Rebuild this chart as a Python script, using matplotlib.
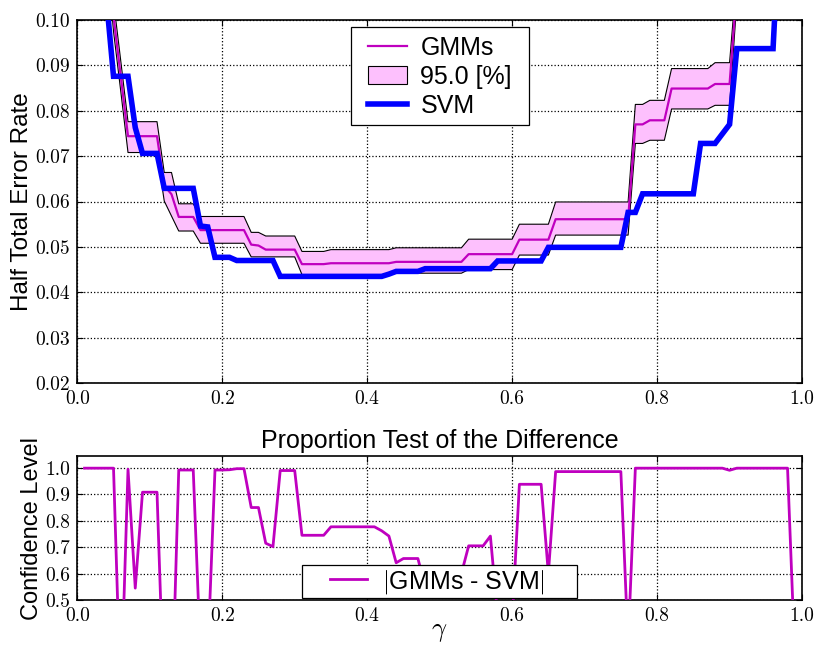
import numpy as np
import matplotlib
matplotlib.use("Agg")
import matplotlib.pyplot as plt
from matplotlib.patches import Patch, Rectangle
from matplotlib.lines import Line2D

plt.rcParams['font.family'] = 'cmr10'
plt.rcParams['mathtext.fontset'] = 'cm'
plt.rcParams['axes.formatter.use_mathtext'] = True

# ---------------- data ----------------
gamma = np.round(np.arange(1, 100) * 0.01, 2)

svm = [0.160, 0.140, 0.120, 0.105, 0.0876, 0.0876, 0.0876, 0.0763, 0.0706, 0.0706,
       0.0706, 0.0629, 0.0629, 0.0629, 0.0629, 0.0629, 0.0546, 0.0544, 0.0477, 0.0477,
       0.0477, 0.0470, 0.0470, 0.0470, 0.0470, 0.0470, 0.0470, 0.0435, 0.0435, 0.0435,
       0.0435, 0.0435, 0.0435, 0.0435, 0.0435, 0.0435, 0.0435, 0.0435, 0.0435, 0.0435,
       0.0435, 0.0435, 0.0440, 0.0446, 0.0446, 0.0446, 0.0446, 0.0452, 0.0452, 0.0452,
       0.0452, 0.0452, 0.0452, 0.0452, 0.0452, 0.0452, 0.0452, 0.0469, 0.0469, 0.0469,
       0.0469, 0.0469, 0.0469, 0.0469, 0.0499, 0.0499, 0.0499, 0.0499, 0.0499, 0.0499,
       0.0499, 0.0499, 0.0499, 0.0499, 0.0499, 0.0576, 0.0576, 0.0617, 0.0617, 0.0617,
       0.0617, 0.0617, 0.0617, 0.0617, 0.0617, 0.0728, 0.0728, 0.0728, 0.0749, 0.0770,
       0.0937, 0.0937, 0.0937, 0.0937, 0.0937, 0.0937, 0.125, 0.130, 0.135]

gmm = [0.200, 0.170, 0.145, 0.120, 0.1008, 0.0876, 0.0744, 0.0744, 0.0744, 0.0744,
       0.0744, 0.0635, 0.0616, 0.0566, 0.0566, 0.0566, 0.0537, 0.0537, 0.0537, 0.0537,
       0.0537, 0.0537, 0.0537, 0.0505, 0.0503, 0.0494, 0.0494, 0.0494, 0.0494, 0.0494,
       0.0462, 0.0462, 0.0462, 0.0462, 0.0464, 0.0464, 0.0464, 0.0464, 0.0464, 0.0464,
       0.0464, 0.0464, 0.0464, 0.0467, 0.0467, 0.0467, 0.0467, 0.0467, 0.0467, 0.0467,
       0.0467, 0.0467, 0.0467, 0.0484, 0.0484, 0.0484, 0.0484, 0.0484, 0.0484, 0.0484,
       0.0516, 0.0516, 0.0516, 0.0516, 0.0516, 0.0561, 0.0561, 0.0561, 0.0561, 0.0561,
       0.0561, 0.0561, 0.0561, 0.0561, 0.0561, 0.0561, 0.0770, 0.0770, 0.0779, 0.0779,
       0.0779, 0.0849, 0.0849, 0.0849, 0.0849, 0.0849, 0.0849, 0.0859, 0.0859, 0.0859,
       0.107, 0.115, 0.120, 0.125, 0.130, 0.135, 0.140, 0.145, 0.150]

gmm_upper = [0.205, 0.175, 0.150, 0.124, 0.1042, 0.0910, 0.0776, 0.0776, 0.0776, 0.0776,
             0.0776, 0.0664, 0.0664, 0.0595, 0.0595, 0.0595, 0.0567, 0.0567, 0.0567, 0.0567,
             0.0567, 0.0567, 0.0567, 0.0532, 0.0532, 0.0524, 0.0524, 0.0524, 0.0524, 0.0524,
             0.0490, 0.0490, 0.0490, 0.0490, 0.0494, 0.0494, 0.0494, 0.0494, 0.0494, 0.0494,
             0.0494, 0.0494, 0.0494, 0.0498, 0.0498, 0.0498, 0.0498, 0.0498, 0.0498, 0.0498,
             0.0498, 0.0498, 0.0498, 0.0517, 0.0517, 0.0517, 0.0517, 0.0517, 0.0517, 0.0517,
             0.0550, 0.0550, 0.0550, 0.0550, 0.0550, 0.0599, 0.0599, 0.0599, 0.0599, 0.0599,
             0.0599, 0.0599, 0.0599, 0.0599, 0.0599, 0.0599, 0.0814, 0.0814, 0.0823, 0.0823,
             0.0823, 0.0893, 0.0893, 0.0893, 0.0893, 0.0893, 0.0893, 0.0906, 0.0906, 0.0906,
             0.110, 0.118, 0.123, 0.128, 0.133, 0.138, 0.143, 0.148, 0.153]

gmm_lower = [0.195, 0.165, 0.140, 0.116, 0.0975, 0.0843, 0.0708, 0.0708, 0.0708, 0.0708,
             0.0708, 0.0601, 0.0568, 0.0535, 0.0535, 0.0535, 0.0508, 0.0508, 0.0508, 0.0508,
             0.0508, 0.0508, 0.0508, 0.0478, 0.0478, 0.0478, 0.0478, 0.0478, 0.0478, 0.0478,
             0.0439, 0.0439, 0.0439, 0.0439, 0.0439, 0.0439, 0.0439, 0.0439, 0.0439, 0.0439,
             0.0439, 0.0439, 0.0439, 0.0442, 0.0442, 0.0442, 0.0442, 0.0442, 0.0442, 0.0442,
             0.0442, 0.0442, 0.0442, 0.0450, 0.0450, 0.0450, 0.0450, 0.0450, 0.0450, 0.0450,
             0.0482, 0.0482, 0.0482, 0.0482, 0.0482, 0.0526, 0.0526, 0.0526, 0.0526, 0.0526,
             0.0526, 0.0526, 0.0526, 0.0526, 0.0526, 0.0526, 0.0728, 0.0728, 0.0735, 0.0735,
             0.0735, 0.0804, 0.0804, 0.0804, 0.0804, 0.0804, 0.0804, 0.0812, 0.0812, 0.0812,
             0.104, 0.112, 0.117, 0.122, 0.127, 0.132, 0.137, 0.142, 0.147]

confidence = [0.999, 0.999, 0.999, 0.999, 0.999, 0.11, 0.995, 0.545, 0.908, 0.908,
              0.908, 0.09, 0.05, 0.992, 0.992, 0.992, 0.29, 0.29, 0.992, 0.992,
              0.993, 0.997, 0.997, 0.85, 0.85, 0.715, 0.702, 0.99, 0.99, 0.99,
              0.745, 0.745, 0.745, 0.745, 0.777, 0.777, 0.777, 0.777, 0.777, 0.777,
              0.777, 0.762, 0.742, 0.641, 0.657, 0.657, 0.657, 0.55, 0.58, 0.56,
              0.60, 0.57, 0.60, 0.705, 0.705, 0.705, 0.742, 0.44, 0.45, 0.42,
              0.938, 0.938, 0.938, 0.938, 0.60, 0.986, 0.986, 0.986, 0.986, 0.986,
              0.986, 0.986, 0.986, 0.986, 0.986, 0.33, 0.999, 0.999, 0.999, 0.999,
              0.999, 0.999, 0.999, 0.999, 0.999, 0.999, 0.999, 0.999, 0.999, 0.991,
              0.999, 0.999, 0.999, 0.999, 0.999, 0.999, 0.999, 0.999, 0.29]

x_ticks = [0.0, 0.2, 0.4, 0.6, 0.8, 1.0]
top_y_ticks = [0.02, 0.03, 0.04, 0.05, 0.06, 0.07, 0.08, 0.09, 0.10]
bottom_y_ticks = [0.5, 0.6, 0.7, 0.8, 0.9, 1.0]

# ---------------- style ----------------
MAG = (0.75, 0.0, 0.75)
PINK = '#fdc0fd'
BLUE = '#0000ff'
SANS = 'Liberation Sans'
TICK_FS = 14
BIG = 18

fig = plt.figure(figsize=(8.16, 6.46), dpi=100)
ax1 = fig.add_axes([0.0947, 0.4071, 0.8882, 0.5619])
ax2 = fig.add_axes([0.0947, 0.0712, 0.8882, 0.2229])

# top panel
ax1.fill_between(gamma, gmm_lower, gmm_upper, facecolor=PINK, edgecolor='none', zorder=2)
ax1.plot(gamma, gmm_upper, color='k', lw=0.8, zorder=3)
ax1.plot(gamma, gmm_lower, color='k', lw=0.8, zorder=3)
ax1.plot(gamma, gmm, color=MAG, lw=1.6, zorder=4)
ax1.plot(gamma, svm, color=BLUE, lw=4.0, zorder=5, solid_joinstyle='miter')
ax1.set_xlim(0, 1)
ax1.set_ylim(0.02, 0.10)
ax1.set_xticks(x_ticks)
ax1.set_yticks(top_y_ticks)
ax1.set_xticklabels(['%.1f' % t for t in x_ticks])
ax1.set_yticklabels(['%.2f' % t for t in top_y_ticks])
ax1.set_ylabel('Half Total Error Rate', fontfamily=SANS, fontsize=17.5, labelpad=2)

# top legend: frame drawn as rectangle, content placed without frame
ax1.add_patch(Rectangle((0.3771, 0.7107), 0.2463, 0.2708, transform=ax1.transAxes,
                        facecolor='white', edgecolor='k', lw=0.9, zorder=6))
handles = [Line2D([], [], color=MAG, lw=1.6),
           Patch(facecolor=PINK, edgecolor='k', lw=0.8),
           Line2D([], [], color=BLUE, lw=4.0)]
leg1 = ax1.legend(handles, ['GMMs', '95.0 [%]', 'SVM'], loc='center left',
                  bbox_to_anchor=(0.401, 0.8444),
                  prop={'family': SANS, 'size': BIG}, frameon=False,
                  borderaxespad=0.0, borderpad=0.0,
                  handlelength=1.55, handletextpad=0.55, labelspacing=0.2)
leg1.set_zorder(7)

# bottom panel
ax2.plot(gamma, confidence, color=MAG, lw=2.0, zorder=3)
ax2.set_xlim(0, 1)
ax2.set_ylim(0.5, 1.045)
ax2.set_xticks(x_ticks)
ax2.set_yticks(bottom_y_ticks)
ax2.set_xticklabels(['%.1f' % t for t in x_ticks])
ax2.set_yticklabels(['%.1f' % t for t in bottom_y_ticks])
ax2.set_ylabel('Confidence Level', fontfamily=SANS, fontsize=17, labelpad=2)
ax2.set_xlabel(r'$\gamma$', fontsize=19, labelpad=-3)
ax2.set_title('Proportion Test of the Difference', fontfamily=SANS, fontsize=BIG, pad=6)

ax2.add_patch(Rectangle((0.31, 0.014), 0.379, 0.229, transform=ax2.transAxes,
                        facecolor='white', edgecolor='k', lw=0.9, zorder=4,
                        clip_on=False))
leg2 = ax2.legend([Line2D([], [], color=MAG, lw=2.0)], [r'$|$GMMs - SVM$|$'],
                  loc='center left', bbox_to_anchor=(0.3486, 0.128),
                  prop={'family': SANS, 'size': BIG}, frameon=False,
                  borderaxespad=0.0, borderpad=0.0,
                  handlelength=1.5, handletextpad=0.6)
leg2.set_zorder(6)

for ax in (ax1, ax2):
    ax.grid(True, color='k', linestyle=':', linewidth=0.9)
    ax.set_axisbelow(True)
    ax.tick_params(direction='in', top=True, right=True, length=4, width=0.8,
                   labelsize=TICK_FS, pad=5)
    for s in ax.spines.values():
        s.set_linewidth(1.2)

fig.savefig('out.png', dpi=100)
